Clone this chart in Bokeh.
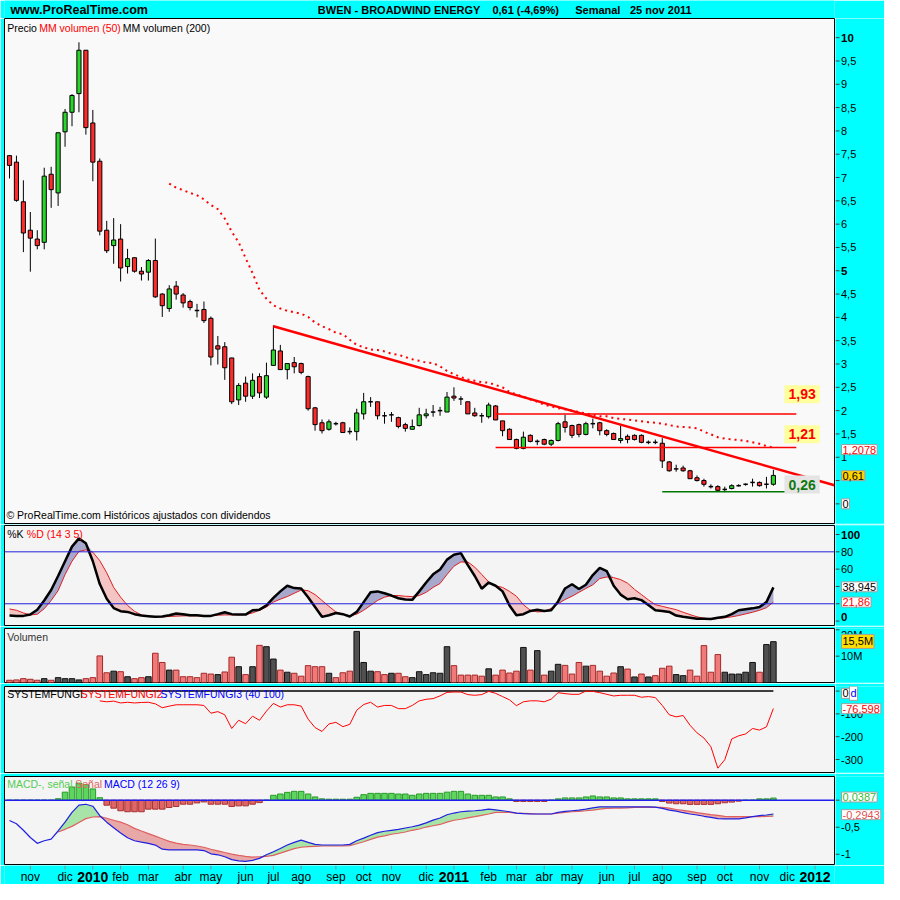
import numpy as np
import pandas as pd
from bokeh.plotting import figure
from bokeh.models import Range1d, Label, Span
from bokeh.layouts import column, row
from bokeh.embed import file_html
from bokeh.resources import INLINE
from bokeh.core.properties import value

NaN = float("nan")

# ---------------- data (weekly bars, dated by Monday) ----------------
first_monday = "2009-10-12"
month_names = ["ene", "feb", "mar", "abr", "may", "jun", "jul", "ago", "sep", "oct", "nov", "dic"]

opens = [7.47, 7.33, 6.48, 5.87, 5.68, 5.61, 7.07, 6.67, 7.98, 8.40,
         8.80, 9.73, 8.17, 7.35, 5.87, 5.54, 5.68, 5.09, 5.28, 4.99,
         4.97, 5.22, 4.50, 4.19, 4.67, 4.48, 4.34, 4.15, 4.17, 3.98,
         3.39, 3.37, 3.13, 2.23, 2.59, 2.31, 2.73, 2.29, 2.97, 3.28,
         2.88, 3.03, 3.01, 2.73, 2.06, 1.74, 1.60, 1.72, 1.74, 1.55,
         1.55, 1.93, 2.19, 2.19, 1.89, 1.91, 1.85, 1.70, 1.60, 1.68,
         1.89, 1.97, 2.00, 1.97, 2.31, 2.25, 2.19, 1.95, 1.89, 1.87,
         2.10, 1.78, 1.60, 1.38, 1.19, 1.47, 1.34, 1.38, 1.28, 1.36,
         1.76, 1.68, 1.70, 1.49, 1.72, 1.74, 1.57, 1.51, 1.36, 1.45,
         1.47, 1.47, 1.32, 1.32, 1.30, 0.90, 0.75, 0.77, 0.71, 0.56,
         0.50, 0.37, 0.37, 0.31, 0.33, 0.39, 0.42, 0.46, 0.46, 0.42, 0.42]
highs = [7.47, 7.47, 6.94, 6.26, 5.87, 7.21, 7.23, 7.96, 8.47, 8.79,
         9.90, 9.73, 8.45, 7.41, 6.07, 6.13, 6.00, 5.47, 5.28, 5.08,
         5.25, 5.69, 4.52, 4.69, 4.78, 4.52, 4.38, 4.29, 4.34, 4.02,
         3.60, 3.47, 3.13, 2.59, 2.73, 2.80, 2.80, 3.03, 3.83, 3.41,
         3.01, 3.15, 3.03, 2.75, 2.08, 1.81, 1.81, 1.76, 1.76, 1.64,
         2.04, 2.38, 2.29, 2.19, 1.97, 1.97, 1.87, 1.74, 1.81, 2.06,
         2.04, 2.12, 2.08, 2.40, 2.50, 2.31, 2.19, 2.06, 1.95, 2.17,
         2.12, 1.78, 1.62, 1.40, 1.55, 1.49, 1.38, 1.40, 1.38, 1.76,
         1.91, 1.70, 1.72, 1.76, 1.83, 1.76, 1.60, 1.53, 1.68, 1.49,
         1.49, 1.49, 1.36, 1.38, 1.41, 0.92, 0.84, 0.82, 0.73, 0.61,
         0.54, 0.42, 0.40, 0.37, 0.42, 0.42, 0.44, 0.54, 0.48, 0.58, 0.73]
lows = [6.98, 6.48, 5.40, 4.98, 5.46, 5.46, 6.35, 6.39, 7.66, 8.10,
        8.40, 7.92, 6.92, 5.76, 5.38, 5.15, 4.77, 4.94, 4.96, 4.79,
        4.79, 4.42, 4.01, 4.12, 4.38, 4.21, 4.15, 4.00, 3.88, 2.97,
        2.99, 2.66, 2.14, 2.12, 2.19, 2.25, 2.27, 2.25, 2.97, 2.88,
        2.67, 2.80, 2.78, 2.00, 1.57, 1.51, 1.57, 1.68, 1.53, 1.49,
        1.36, 1.81, 2.08, 1.81, 1.72, 1.76, 1.62, 1.55, 1.60, 1.66,
        1.83, 1.87, 1.89, 1.97, 2.21, 2.12, 1.93, 1.87, 1.74, 1.83,
        1.80, 1.45, 1.38, 1.17, 1.17, 1.32, 1.26, 1.26, 1.24, 1.34,
        1.53, 1.41, 1.43, 1.47, 1.62, 1.47, 1.45, 1.38, 1.30, 1.30,
        1.36, 1.30, 1.28, 1.28, 0.77, 0.69, 0.69, 0.69, 0.54, 0.48,
        0.37, 0.33, 0.27, 0.25, 0.31, 0.37, 0.39, 0.37, 0.37, 0.33, 0.39]
closes = [7.26, 6.51, 5.81, 5.70, 5.54, 7.03, 6.74, 7.96, 8.40, 8.76,
          9.73, 8.07, 7.33, 5.85, 5.43, 5.66, 5.06, 5.26, 4.99, 4.93,
          5.22, 4.44, 4.25, 4.61, 4.50, 4.31, 4.21, 4.15, 3.93, 3.15,
          3.32, 2.92, 2.19, 2.54, 2.31, 2.65, 2.38, 2.75, 3.30, 2.88,
          3.01, 2.94, 2.82, 2.04, 1.70, 1.57, 1.76, 1.72, 1.53, 1.55,
          1.95, 2.19, 2.19, 1.89, 1.89, 1.91, 1.66, 1.62, 1.66, 1.91,
          1.93, 1.97, 2.00, 2.29, 2.27, 2.25, 1.93, 1.89, 1.89, 2.12,
          1.80, 1.57, 1.38, 1.19, 1.43, 1.34, 1.34, 1.28, 1.36, 1.72,
          1.64, 1.47, 1.49, 1.72, 1.72, 1.57, 1.49, 1.38, 1.40, 1.38,
          1.38, 1.32, 1.32, 1.32, 0.92, 0.71, 0.75, 0.71, 0.54, 0.50,
          0.42, 0.37, 0.29, 0.31, 0.39, 0.39, 0.42, 0.46, 0.39, 0.42, 0.61]

ma50 = [NaN] * 23 + [
    6.87, 6.78, 6.73, 6.67, 6.62, 6.53, 6.41, 6.32, 6.12, 5.84,
    5.61, 5.27, 4.95, 4.59, 4.40, 4.26, 4.19, 4.14, 4.11, 4.08,
    4.01, 3.89, 3.81, 3.75, 3.67, 3.64, 3.52, 3.41, 3.36, 3.31,
    3.30, 3.27, 3.22, 3.20, 3.15, 3.10, 3.07, 3.03, 3.02, 2.95,
    2.85, 2.78, 2.72, 2.67, 2.64, 2.61, 2.60, 2.55, 2.50, 2.40,
    2.35, 2.30, 2.24, 2.19, 2.13, 2.09, 2.05, 2.03, 2.00, 1.97,
    1.94, 1.91, 1.88, 1.88, 1.84, 1.82, 1.81, 1.79, 1.77, 1.75,
    1.74, 1.72, 1.69, 1.66, 1.65, 1.64, 1.62, 1.55, 1.49, 1.43,
    1.40, 1.38, 1.37, 1.35, 1.32, 1.29, 1.24, 1.2078]

trend_x = [38, 118.8]
trend_y = [3.81, 0.40]
level_values = [1.93, 1.21, 0.26]
level_texts = ["1,93", "1,21", "0,26"]
level_start = [70, 70, 94]
level_end = [113.3, 113.3, 113.3]

volume_m = [0.85, 0.98, 1.46, 1.22, 0.85, 1.46, 0.85, 1.85, 1.46, 1.46,
            0.98, 1.46, 1.85, 10.1, 3.7, 4.3, 4.1, 2.2, 1.46, 1.85,
            2.2, 11.1, 7.6, 4.7, 4.7, 2.2, 2.2, 1.85, 3.5, 3.2,
            3.0, 4.0, 9.6, 6.0, 3.0, 6.0, 14.1, 13.6, 8.9, 4.7,
            3.9, 3.5, 2.4, 6.4, 6.0, 6.0, 3.5, 1.85, 3.7, 4.3,
            19.4, 7.6, 4.3, 4.1, 3.0, 3.5, 3.5, 2.2, 1.85, 4.1,
            3.0, 3.7, 3.5, 13.6, 6.4, 2.8, 2.8, 2.8, 2.4, 5.2,
            2.8, 4.7, 3.6, 4.3, 13.3, 4.7, 12.1, 2.8, 4.3, 6.9,
            6.5, 3.2, 7.6, 6.2, 6.5, 4.3, 2.4, 3.6, 6.0, 5.1,
            2.1, 3.2, 2.1, 2.6, 5.4, 6.2, 3.0, 2.6, 4.7, 2.4,
            14.0, 3.9, 10.6, 3.9, 3.2, 3.2, 3.9, 7.6, 3.9, 14.4, 15.5]
volume_up = [0, 0, 0, 0, 0, 1, 0, 1, 1, 1,
             1, 0, 0, 0, 0, 1, 0, 1, 0, 0,
             1, 0, 0, 1, 0, 0, 0, 0, 0, 0,
             1, 0, 0, 1, 0, 1, 0, 1, 1, 0,
             1, 0, 0, 0, 0, 0, 1, 0, 0, 0,
             1, 1, 1, 0, 0, 1, 0, 0, 1, 1,
             1, 1, 1, 1, 0, 0, 0, 0, 0, 1,
             0, 0, 0, 0, 1, 0, 1, 0, 1, 1,
             0, 0, 0, 1, 0, 0, 0, 0, 1, 0,
             1, 0, 1, 0, 0, 0, 1, 1, 0, 0,
             0, 0, 0, 1, 1, 1, 1, 1, 0, 1, 1]

stoch_k = [6.4, 6.0, 6.0, 7.5, 13.2, 23.8, 35.9, 52.1, 69.1, 86,
           95.5, 89.8, 69.1, 42.8, 25.7, 15.1, 11.4, 10.6, 8, 6.4,
           5.7, 4.9, 5.3, 6.8, 8.7, 8, 6.8, 6.8, 6, 6,
           8, 10.2, 8, 7.5, 7.5, 12.5, 13.2, 18.1, 26.8, 34.3,
           40.8, 38.1, 37.7, 27.6, 16.2, 4.9, 6.8, 9.4, 8, 5.3,
           10.6, 21.9, 33.2, 34.3, 32.1, 29.5, 26.4, 24.9, 24.5, 34.3,
           44.5, 54, 59.6, 71, 76.6, 78.5, 64.6, 52.1, 37.4, 44.5,
           40.8, 34.3, 18.1, 6.8, 8, 11.7, 13.2, 11.7, 12.5, 22.7,
           37.7, 42.6, 37, 41.9, 53.2, 61.5, 57.8, 40.8, 30.6, 25.3,
           26.4, 24.2, 18.5, 12.5, 11.7, 10.6, 6.4, 4.9, 3.8, 2.6,
           2.6, 2.3, 3.8, 4.9, 8, 12.5, 13.6, 14.7, 16.2, 21.9, 38.945]
stoch_d = [14, 12.5, 9.4, 7.1, 7.9, 14.3, 23.8, 35.1, 53.8, 69.1,
           80.4, 82.3, 79.6, 69.8, 55.8, 38.9, 27.6, 18.1, 11.3, 7.1,
           5.3, 4.9, 4.9, 5.3, 5.7, 6, 6, 6, 6, 6,
           6.8, 7.1, 7.1, 7.1, 7.5, 9.4, 12.5, 16.2, 21.9, 25.3,
           28.3, 32.1, 35.9, 35.1, 30.6, 23.8, 17, 10.6, 8, 6,
           8, 12.5, 18.1, 23.8, 27.6, 29.5, 29.5, 28.7, 28.3, 29.5,
           33.2, 38.9, 43.4, 53.9, 63.4, 68.3, 68.3, 62.3, 53.9, 45.3,
           40.8, 38.9, 34.3, 28.7, 18.9, 12.5, 10.6, 11, 14.7, 20.1,
           24.9, 28.7, 33.2, 37.7, 41.9, 49.1, 50.9, 50.2, 47.9, 43.8,
           36.6, 30.6, 24.5, 18.9, 17, 15.1, 13.2, 10.2, 7.5, 4.9,
           3.4, 2.3, 3, 3.8, 4.9, 6.4, 8.3, 10.2, 12.5, 15.5, 21.86]

systemfungi2 = [NaN] * 13 + [
    -43, -47, -44, -52, -49, -52, -50, -49, -56, -73,
    -66, -60, -60, -60, -60, -63, -97, -90, -104, -164,
    -128, -143, -110, -128, -88, -54, -70, -60, -60, -66,
    -123, -160, -177, -144, -137, -156, -146, -84, -59, -49,
    -70, -63, -63, -77, -77, -63, -43, -36, -33, -21,
    -5.6, -4.1, -4.1, -15.5, -18.4, -15.5, -1.3, -9.9, -24.1, -38.4,
    -64, -47, -42.7, -42.7, -47, -35.6, -7, -11.3, -14.1, -14.1,
    0, -1.3, -7, -14.1, -21.3, -18.4, -18.4, -18.4, -27, -24.1,
    -28.4, -63, -104, -113, -107, -150, -183, -206, -244, -338,
    -301, -210, -196, -188, -164, -171, -157, -76.598]
systemfungi1 = [0.0] * 111

macd = [-0.376, -0.437, -0.557, -0.69, -0.798, -0.75, -0.72, -0.57, -0.407, -0.226,
        -0.093, -0.076, -0.112, -0.287, -0.407, -0.51, -0.606, -0.696, -0.75, -0.775,
        -0.799, -0.83, -0.907, -0.92, -0.92, -0.92, -0.92, -0.92, -0.932, -0.992,
        -1.01, -1.046, -1.1, -1.124, -1.13, -1.112, -1.076, -1.01, -0.955, -0.895,
        -0.83, -0.781, -0.739, -0.781, -0.817, -0.829, -0.829, -0.829, -0.829, -0.817,
        -0.75, -0.702, -0.648, -0.6, -0.575, -0.557, -0.539, -0.515, -0.491, -0.461,
        -0.419, -0.37, -0.33, -0.27, -0.238, -0.214, -0.202, -0.196, -0.184, -0.166,
        -0.178, -0.196, -0.214, -0.238, -0.25, -0.256, -0.256, -0.256, -0.256, -0.226,
        -0.208, -0.196, -0.184, -0.166, -0.141, -0.123, -0.123, -0.123, -0.123, -0.123,
        -0.123, -0.123, -0.123, -0.129, -0.153, -0.184, -0.202, -0.232, -0.256, -0.274,
        -0.298, -0.317, -0.341, -0.347, -0.347, -0.347, -0.329, -0.305, -0.286, -0.274, -0.2556]
signal = [NaN] * 7 + [
    -0.588, -0.539, -0.485,
    -0.413, -0.341, -0.311, -0.305, -0.335, -0.371, -0.407, -0.455, -0.521, -0.57,
    -0.618, -0.666, -0.714, -0.763, -0.793, -0.817, -0.829, -0.847, -0.871, -0.907,
    -0.937, -0.968, -0.998, -1.022, -1.04, -1.052, -1.046, -1.04, -1.022, -0.98,
    -0.937, -0.895, -0.871, -0.859, -0.853, -0.847, -0.847, -0.847, -0.847, -0.841,
    -0.805, -0.769, -0.726, -0.684, -0.66, -0.63, -0.612, -0.588, -0.557, -0.533,
    -0.497, -0.473, -0.449, -0.407, -0.371, -0.353, -0.329, -0.305, -0.28, -0.256,
    -0.226, -0.226, -0.226, -0.238, -0.244, -0.25, -0.256, -0.256, -0.256, -0.238,
    -0.226, -0.214, -0.208, -0.196, -0.184, -0.166, -0.153, -0.147, -0.147, -0.141,
    -0.135, -0.135, -0.135, -0.135, -0.135, -0.147, -0.172, -0.19, -0.208, -0.232,
    -0.25, -0.268, -0.28, -0.298, -0.305, -0.305, -0.305, -0.305, -0.305, -0.298, -0.2943]
macd_hist = [0, 0, 0, 0, 0, 0, 0, 0.027, 0.148, 0.244,
             0.316, 0.286, 0.208, 0.045, -0.093, -0.148, -0.196, -0.214, -0.214, -0.214,
             -0.166, -0.166, -0.166, -0.135, -0.117, -0.075, -0.075, -0.051, -0.033, -0.075,
             -0.075, -0.075, -0.117, -0.105, -0.105, -0.075, -0.045, 0.0, 0.09, 0.114,
             0.144, 0.163, 0.163, 0.114, 0.06, 0.024, 0.018, 0.018, 0.018, 0.018,
             0.054, 0.102, 0.126, 0.126, 0.126, 0.126, 0.114, 0.114, 0.09, 0.114,
             0.126, 0.126, 0.126, 0.148, 0.163, 0.163, 0.114, 0.09, 0.09, 0.09,
             0.06, 0.06, 0.024, -0.024, -0.024, -0.024, -0.024, -0.024, 0.0, 0.024,
             0.042, 0.042, 0.042, 0.06, 0.078, 0.06, 0.06, 0.042, 0.042, 0.024,
             0.024, 0.024, 0.024, 0.024, -0.024, -0.054, -0.066, -0.066, -0.078, -0.078,
             -0.078, -0.078, -0.066, -0.048, -0.036, -0.018, 0.0, 0.0, 0.024, 0.024, 0.0387]

# axis tick values and labels per panel ("" = label hidden under a value box)
price_ticks = [i * 0.5 for i in range(21)]
price_tick_labels = ["", ""] + [("%g" % t).replace(".", ",") for t in price_ticks[2:]]
stoch_ticks = [0, 20, 40, 60, 80, 100]
stoch_tick_labels = ["0", "", "", "60", "80", "100"]
vol_ticks = [10, 20]
vol_tick_labels = ["10M", "20M"]
sf_ticks = [0, -100, -200, -300]
sf_tick_labels = ["", "-100", "-200", "-300"]
macd_ticks = [0, -0.5, -1]
macd_tick_labels = ["", "-0,5", "-1"]

# ---------------- layout helpers ----------------
PW = 835          # panel figure width (frame 830)
SW = 49           # right-hand scale strip width
CYAN = "#00FFFF"
FONT = "Liberation Sans"
XR0, XR1 = -0.72, 118.8
xr = Range1d(XR0, XR1)
n = len(closes)
xs = np.arange(n)


def kx(xref):
    return (xref - 9.09) / 7.07


def panel(height, y0, y1, top, bottom, bg="#F4F4F4"):
    p = figure(width=PW, height=height, x_range=xr, y_range=Range1d(y0, y1),
               output_backend="svg", toolbar_location=None,
               x_axis_location=None, y_axis_location=None,
               min_border_left=4, min_border_right=1, min_border_top=top,
               min_border_bottom=bottom, background_fill_color=bg,
               border_fill_color=CYAN, outline_line_color="black", outline_line_width=1)
    p.grid.visible = False
    return p


def scale_strip(p, height, top, bottom, ticks, labels, bold=(), label_y=None):
    label_y = label_y or {}
    s = figure(width=SW, height=height, x_range=Range1d(0, SW), y_range=p.y_range,
               output_backend="svg", toolbar_location=None,
               x_axis_location=None, y_axis_location=None,
               min_border_left=0, min_border_right=0, min_border_top=top,
               min_border_bottom=bottom, background_fill_color=CYAN,
               border_fill_color=CYAN, outline_line_color=None)
    s.grid.visible = False
    s.segment(x0=0, x1=4, y0=ticks, y1=ticks, line_color="#404040", line_width=1)
    nt = [(t, l) for t, l in zip(ticks, labels) if t not in bold and l]
    bt = [(t, l) for t, l in zip(ticks, labels) if t in bold and l]
    if nt:
        s.text(x=[5.5] * len(nt), y=[label_y.get(t, t) for t, _ in nt],
               text=[l for _, l in nt],
               text_font=value(FONT), text_font_size="11px", text_baseline="middle",
               text_color="black")
    if bt:
        s.text(x=[5.5] * len(bt), y=[label_y.get(t, t) for t, _ in bt],
               text=[l for _, l in bt],
               text_font=value(FONT), text_font_size="11.5px", text_font_style="bold",
               text_baseline="middle", text_color="black")
    return s


def txt(p, x, y, text, color="black", size="10.5px", bold=False, align="left"):
    p.add_layout(Label(x=x, y=y, text=text, text_color=color, text_font=FONT,
                       text_font_size=size, text_font_style="bold" if bold else "normal",
                       text_align=align, text_baseline="middle"))


def box(p, x, y, text, color, bg, border="#A0A0A0", size="11px", bold=False,
        align="left", pad=1):
    p.add_layout(Label(x=x, y=y, text=text, text_color=color, text_font=FONT,
                       text_font_size=size, text_font_style="bold" if bold else "normal",
                       text_align=align, text_baseline="middle",
                       background_fill_color=bg, border_line_color=border, padding=pad))


# ---------------- header (shares the time scale) ----------------
hdr = figure(width=PW + SW, height=18, x_range=xr, y_range=Range1d(18.33, 0),
             output_backend="svg", toolbar_location=None, x_axis_location=None,
             y_axis_location=None, min_border_left=4, min_border_right=SW + 1,
             min_border_top=0, min_border_bottom=0, background_fill_color=CYAN,
             border_fill_color=CYAN, outline_line_color=None)
hdr.grid.visible = False
hdr.text(x=[kx(10)], y=[9.6], text=["www.ProRealTime.com"], text_font=value(FONT),
         text_font_size="12.5px", text_font_style="bold", text_baseline="middle",
         text_color="black")
hdr.text(x=[kx(323), kx(500.7), kx(585), kx(640.7)], y=[9.6] * 4,
         text=["BWEN - BROADWIND ENERGY", "0,61 (-4,69%)", "Semanal", "25 nov 2011"],
         text_font=value(FONT), text_font_size="11px", text_font_style="bold",
         text_baseline="middle", text_color="black")

# ---------------- main price panel ----------------
main = panel(506, -0.421, 10.411, 0, 1, bg="#F9F9F9")
main_s = scale_strip(main, 506, 0, 1, price_ticks, price_tick_labels, bold=(5, 10))

o = np.array(opens); c = np.array(closes); h = np.array(highs); l = np.array(lows)
main.segment(x0=xs, y0=l, x1=xs, y1=h, line_color="black", line_width=1)
up = c > o
dn = c < o
dj = c == o
main.vbar(x=xs[up], width=0.6, top=c[up], bottom=o[up], fill_color="#2BD62B",
          line_color="black", line_width=1)
main.vbar(x=xs[dn], width=0.6, top=o[dn], bottom=c[dn], fill_color="#FF2A2A",
          line_color="black", line_width=1)
main.segment(x0=xs[dj] - 0.32, y0=c[dj], x1=xs[dj] + 0.32, y1=c[dj],
             line_color="black", line_width=1.5)

main.line(xs, ma50, line_color="#FF0000", line_width=2, line_dash="2 4")
main.line(trend_x, trend_y, line_color="#FF0000", line_width=2.5)
main.segment(x0=level_start, x1=level_end, y0=level_values, y1=level_values,
             line_color=["#FF0000", "#FF0000", "#007700"], line_width=1.5)

box(main, kx(816), 2.35, level_texts[0], "#FF0000", "#FFFF9E", border=None, size="14px",
    bold=True, align="center", pad=4)
box(main, kx(816), 1.496, level_texts[1], "#FF0000", "#FFFF9E", border=None, size="14px",
    bold=True, align="center", pad=4)
box(main, kx(816), 0.415, level_texts[2], "#117711", "#E4E4E4", border=None, size="14px",
    bold=True, align="center", pad=4)

txt(main, kx(6.7), 10.21, "Precio")
txt(main, kx(39.3), 10.21, "MM volumen (50)", color="#FF0000")
txt(main, kx(124.3), 10.21, "MM volumen (200)")
txt(main, kx(6.0), -0.232, "© ProRealTime.com Históricos ajustados con dividendos")
box(main_s, 6, 1.165, "1,2078", "#FF0000", "white")
box(main_s, 6, 0.605, "0,61", "black", "#FFD200")
box(main_s, 6, 0.0, "0", "black", "white")

# ---------------- stochastic ----------------
st = panel(102, -5.1, 110.4, 1, 1)
st_s = scale_strip(st, 102, 1, 1, stoch_ticks, stoch_tick_labels, bold=(0, 100),
                   label_y={0: 4.5})
K = np.array(stoch_k); D = np.array(stoch_d)
st.varea(x=xs, y1=D, y2=np.maximum(K, D), fill_color="#A7A9CC")
st.varea(x=xs, y1=np.minimum(K, D), y2=D, fill_color="#F3C5C5")
st.add_layout(Span(location=80, dimension="width", line_color="#2020DD", line_width=1))
st.add_layout(Span(location=20, dimension="width", line_color="#2020DD", line_width=1))
st.line(xs, D, line_color="#E02020", line_width=1)
st.line(xs, K, line_color="black", line_width=2.5)
txt(st, kx(6.7), 101.1, "%K")
txt(st, kx(26.7), 101.1, "%D (14 3 5)", color="#FF0000")
box(st_s, 6, 39.6, "38,945", "black", "white")
box(st_s, 6, 21.9, "21,86", "#FF0000", "white")

# ---------------- volume ----------------
vol = panel(57, 0, 20.5, 2, 1)
vol_s = scale_strip(vol, 57, 2, 1, vol_ticks, vol_tick_labels, label_y={20: 18.2})
vm = np.array(volume_m); vu = np.array(volume_up) == 1
vol.vbar(x=xs[vu], width=0.8, top=vm[vu], bottom=0, fill_color="#505050",
         line_color="#111111", line_width=1)
vol.vbar(x=xs[~vu], width=0.8, top=vm[~vu], bottom=0, fill_color="#F07A7A",
         line_color="#A52828", line_width=1)
txt(vol, kx(6.7), 17.3, "Volumen", color="#333333")
box(vol_s, 6, 15.6, "15,5M", "black", "#FFDD00")

# ---------------- SYSTEMFUNGI ----------------
sf = panel(90, -357, 20.1, 3, 1)
sf_s = scale_strip(sf, 90, 3, 1, sf_ticks, sf_tick_labels)
sf.line(xs, systemfungi1, line_color="black", line_width=1.5)
sf.line(xs, systemfungi2, line_color="#FF0000", line_width=1)
txt(sf, kx(6.7), -12, "SYSTEMFUNGI")
txt(sf, kx(81.7), -12, "SYSTEMFUNGI2", color="#FF0000")
txt(sf, kx(162.7), -12, "SYSTEMFUNGI3 (40 100)", color="#0000FF")
box(sf_s, 6, -10, "0", "black", "white")
box(sf_s, 14, -10, "d", "#0000FF", "white")
box(sf_s, 6, -77, "-76,598", "#FF0000", "white")

# ---------------- MACD ----------------
mc = panel(92, -1.208, 0.4376, 3, 0)
mc_s = scale_strip(mc, 92, 3, 0, macd_ticks, macd_tick_labels)
hist = np.array(macd_hist)
pos = hist >= 0
mc.vbar(x=xs[pos], width=0.8, top=hist[pos], bottom=0, fill_color="#5CD65C",
        line_color="#2A9A2A", line_width=1)
mc.vbar(x=xs[~pos], width=0.8, top=0, bottom=hist[~pos], fill_color="#E06666",
        line_color="#A83232", line_width=1)
mc.add_layout(Span(location=0, dimension="width", line_color="#2020EE", line_width=1.5))
M = np.array(macd); S = np.array(signal)
s0 = 7
mc.varea(x=xs[s0:], y1=S[s0:], y2=np.maximum(M[s0:], S[s0:]), fill_color="#A8E4A8")
mc.varea(x=xs[s0:], y1=np.minimum(M[s0:], S[s0:]), y2=S[s0:], fill_color="#E8A8A8")
mc.line(xs, S, line_color="#E06060", line_width=1.2)
mc.line(xs, M, line_color="#2020E0", line_width=1.2)
txt(mc, kx(6.7), 0.298, "MACD-, señal", color="#55CC55")
txt(mc, kx(76), 0.298, "Señal", color="#E06060")
txt(mc, kx(105.3), 0.298, "MACD (12 26 9)", color="#0000FF")
box(mc_s, 6, 0.058, "0,0387", "#33BB33", "white")
box(mc_s, 6, -0.268, "-0,2943", "#E05050", "white")

# ---------------- time axis (shared x scale) ----------------
dates = pd.date_range(first_monday, periods=121, freq="7D")
m_idx, m_lab, y_idx, y_lab = [], [], [], []
for i in range(1, len(dates)):
    if dates[i].month != dates[i - 1].month and i <= XR1:
        if dates[i].month == 1:
            y_idx.append(i); y_lab.append(str(dates[i].year))
        else:
            m_idx.append(i); m_lab.append(month_names[dates[i].month - 1])
FH = 884 - 18 - 506 - 102 - 57 - 90 - 92
ft = figure(width=PW + SW, height=FH, x_range=xr, y_range=Range1d(FH, 0),
            output_backend="svg", toolbar_location=None, x_axis_location=None,
            y_axis_location=None, min_border_left=4, min_border_right=SW + 1,
            min_border_top=0, min_border_bottom=0, background_fill_color=CYAN,
            border_fill_color=CYAN, outline_line_color=None)
ft.grid.visible = False
all_idx = m_idx + y_idx
ft.segment(x0=all_idx, x1=all_idx, y0=[0] * len(all_idx), y1=[4] * len(all_idx),
           line_color="#888888", line_width=1)
ft.text(x=m_idx, y=[11.5] * len(m_idx), text=m_lab, text_font=value(FONT),
        text_font_size="12px", text_align="center", text_baseline="middle",
        text_color="black")
ft.text(x=y_idx, y=[11.5] * len(y_idx), text=y_lab, text_font=value(FONT),
        text_font_size="14px", text_font_style="bold", text_align="center",
        text_baseline="middle", text_color="black")

layout = column(hdr,
                row(main, main_s, spacing=0),
                row(st, st_s, spacing=0),
                row(vol, vol_s, spacing=0),
                row(sf, sf_s, spacing=0),
                row(mc, mc_s, spacing=0),
                ft, spacing=0)
open("out.html", "w").write(file_html(layout, INLINE))
